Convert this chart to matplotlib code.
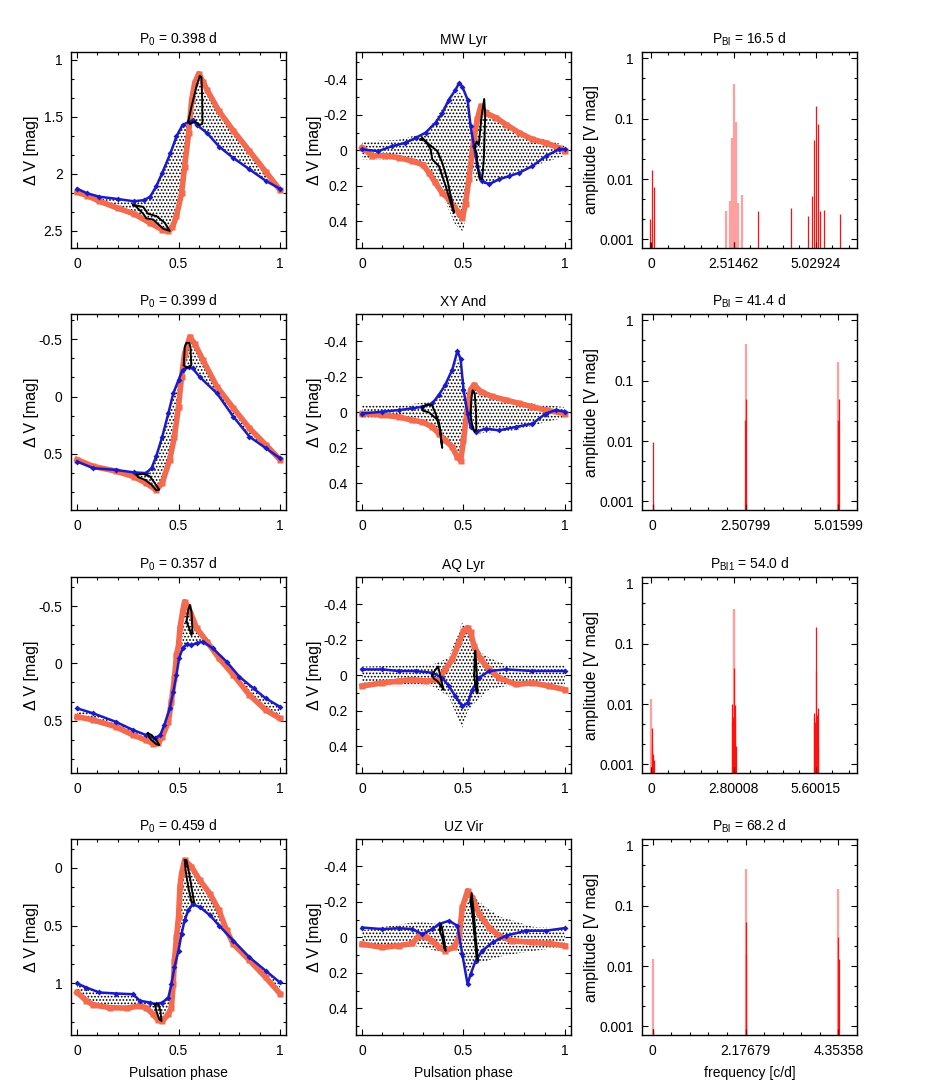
import matplotlib
matplotlib.use("Agg")
import matplotlib.pyplot as plt
from matplotlib.ticker import (MultipleLocator, AutoMinorLocator, FixedLocator,
                               FixedFormatter, FuncFormatter, NullFormatter)

plt.rcParams['font.family'] = ['Liberation Sans', 'DejaVu Sans']
plt.rcParams['mathtext.fontset'] = 'custom'
plt.rcParams['mathtext.rm'] = 'Liberation Sans'
plt.rcParams['mathtext.it'] = 'Liberation Sans:italic'
plt.rcParams['font.size'] = 10
plt.rcParams['axes.titlesize'] = 10
plt.rcParams['hatch.linewidth'] = 0.8
plt.rcParams['axes.unicode_minus'] = False

RED = '#F46A4E'
BLUE = '#1A1AC8'

# ---------------- titles ----------------
left_titles = ['P$_0$ = 0.398 d', 'P$_0$ = 0.399 d', 'P$_0$ = 0.357 d', 'P$_0$ = 0.459 d']
star_names = ['MW Lyr', 'XY And', 'AQ Lyr', 'UZ Vir']
right_titles = ['P$_{\\mathrm{Bl}}$ = 16.5 d', 'P$_{\\mathrm{Bl}}$ = 41.4 d',
                'P$_{\\mathrm{Bl1}}$ = 54.0 d', 'P$_{\\mathrm{Bl}}$ = 68.2 d']

# ---------------- light curves (phase, delta V) ----------------
lc1_red = [(0.0, 2.16), (0.05, 2.19), (0.11, 2.24), (0.2, 2.30), (0.28, 2.35), (0.36, 2.43),
           (0.42, 2.49), (0.45, 2.50), (0.47, 2.47), (0.49, 2.37), (0.515, 2.17), (0.53, 1.94),
           (0.55, 1.64), (0.565, 1.35), (0.58, 1.20), (0.60, 1.12), (0.62, 1.19), (0.64, 1.26),
           (0.70, 1.45), (0.77, 1.62), (0.85, 1.80), (0.93, 1.98), (1.0, 2.14)]
lc1_blue = [(0.0, 2.13), (0.05, 2.17), (0.11, 2.20), (0.2, 2.22), (0.28, 2.24), (0.33, 2.23),
            (0.36, 2.20), (0.39, 2.11), (0.42, 1.99), (0.46, 1.82), (0.49, 1.67), (0.52, 1.57),
            (0.556, 1.54), (0.57, 1.53), (0.59, 1.57), (0.64, 1.64), (0.70, 1.76), (0.77, 1.86),
            (0.85, 1.96), (0.93, 2.06), (1.0, 2.13)]
lc1_loop_max = [(0.548, 1.54), (0.564, 1.41), (0.589, 1.23), (0.605, 1.14), (0.613, 1.15),
                (0.617, 1.35), (0.618, 1.56), (0.605, 1.57), (0.581, 1.54), (0.556, 1.56),
                (0.548, 1.54)]
lc1_loop_min = [(0.276, 2.27), (0.326, 2.29), (0.35, 2.35), (0.391, 2.37), (0.433, 2.43),
                (0.457, 2.50), (0.424, 2.48), (0.375, 2.40), (0.342, 2.39), (0.326, 2.35),
                (0.293, 2.29), (0.276, 2.27)]

lc2_red = [(0.0, 0.55), (0.08, 0.61), (0.19, 0.65), (0.28, 0.70), (0.34, 0.755), (0.39, 0.815),
           (0.42, 0.755), (0.457, 0.55), (0.48, 0.35), (0.50, 0.09), (0.515, -0.17),
           (0.53, -0.375), (0.556, -0.52), (0.58, -0.46), (0.62, -0.32), (0.69, -0.085),
           (0.77, 0.10), (0.85, 0.277), (0.93, 0.42), (1.0, 0.55)]
lc2_blue = [(0.0, 0.567), (0.08, 0.625), (0.19, 0.64), (0.28, 0.662), (0.34, 0.668),
            (0.367, 0.625), (0.39, 0.523), (0.42, 0.35), (0.45, 0.146), (0.474, -0.027),
            (0.50, -0.143), (0.52, -0.23), (0.55, -0.254), (0.57, -0.245), (0.605, -0.17),
            (0.69, -0.027), (0.77, 0.175), (0.85, 0.35), (0.93, 0.45), (1.0, 0.538)]
lc2_loop_max = [(0.526, -0.274), (0.531, -0.433), (0.539, -0.468), (0.553, -0.468),
                (0.559, -0.433), (0.563, -0.274), (0.553, -0.254), (0.536, -0.254),
                (0.526, -0.274)]
lc2_loop_min = [(0.293, 0.683), (0.326, 0.674), (0.359, 0.697), (0.383, 0.755), (0.405, 0.813),
                (0.391, 0.819), (0.367, 0.77), (0.334, 0.726), (0.301, 0.703), (0.293, 0.683)]

lc3_red = [(0.0, 0.465), (0.08, 0.494), (0.19, 0.552), (0.276, 0.625), (0.34, 0.67),
           (0.375, 0.70), (0.40, 0.698), (0.42, 0.64), (0.45, 0.51), (0.465, 0.334),
           (0.48, 0.13), (0.49, -0.073), (0.50, -0.16), (0.507, -0.305), (0.52, -0.45),
           (0.53, -0.538), (0.548, -0.494), (0.59, -0.305), (0.64, -0.19), (0.70, -0.044),
           (0.77, 0.10), (0.85, 0.276), (0.93, 0.407), (1.0, 0.48)]
lc3_blue = [(0.0, 0.392), (0.08, 0.436), (0.19, 0.509), (0.276, 0.581), (0.34, 0.625),
            (0.383, 0.654), (0.41, 0.625), (0.43, 0.538), (0.457, 0.392), (0.474, 0.247),
            (0.49, 0.10), (0.503, -0.044), (0.52, -0.13), (0.54, -0.166), (0.564, -0.16),
            (0.59, -0.175), (0.62, -0.19), (0.67, -0.13), (0.737, -0.015), (0.80, 0.116),
            (0.87, 0.218), (0.93, 0.305), (1.0, 0.378)]
lc3_loop_max = [(0.539, -0.363), (0.548, -0.465), (0.556, -0.509), (0.564, -0.451),
                (0.569, -0.276), (0.564, -0.247), (0.553, -0.305), (0.543, -0.349),
                (0.539, -0.363)]
lc3_loop_min = [(0.35, 0.61), (0.367, 0.625), (0.391, 0.669), (0.405, 0.712), (0.391, 0.706),
                (0.367, 0.669), (0.354, 0.64), (0.35, 0.61)]

lc4_red = [(0.0, 1.078), (0.046, 1.15), (0.08, 1.186), (0.16, 1.209), (0.245, 1.214),
           (0.31, 1.194), (0.34, 1.209), (0.375, 1.267), (0.40, 1.319), (0.42, 1.325),
           (0.45, 1.267), (0.465, 1.209), (0.474, 1.006), (0.48, 0.803), (0.49, 0.60),
           (0.50, 0.426), (0.507, 0.165), (0.515, 0.049), (0.53, -0.067), (0.564, -0.01),
           (0.605, 0.107), (0.655, 0.223), (0.70, 0.368), (0.737, 0.54), (0.77, 0.658),
           (0.85, 0.80), (0.93, 0.948), (1.0, 1.087)]
lc4_blue = [(0.0, 1.0), (0.046, 1.035), (0.11, 1.078), (0.194, 1.087), (0.276, 1.093),
            (0.31, 1.15), (0.36, 1.165), (0.39, 1.18), (0.42, 1.165), (0.45, 1.122),
            (0.465, 1.006), (0.48, 0.861), (0.50, 0.716), (0.515, 0.571), (0.53, 0.455),
            (0.548, 0.368), (0.57, 0.316), (0.605, 0.339), (0.655, 0.41), (0.70, 0.499),
            (0.77, 0.629), (0.85, 0.774), (0.93, 0.89), (1.0, 0.991)]
lc4_loop_max = [(0.531, -0.067), (0.539, -0.067), (0.556, 0.078), (0.572, 0.252),
                (0.577, 0.296), (0.564, 0.296), (0.548, 0.165), (0.535, 0.02), (0.531, -0.067)]
lc4_loop_min = [(0.383, 1.18), (0.40, 1.174), (0.411, 1.238), (0.416, 1.325), (0.405, 1.31),
                (0.391, 1.238), (0.383, 1.18)]

# ---------------- residuals (phase, delta V) ----------------
res1_red = [(0.0, -0.015), (0.05, 0.03), (0.115, 0.03), (0.18, 0.04), (0.247, 0.06),
            (0.30, 0.08), (0.33, 0.126), (0.36, 0.18), (0.395, 0.24), (0.43, 0.276),
            (0.453, 0.32), (0.478, 0.35), (0.495, 0.38), (0.51, 0.30), (0.527, 0.16),
            (0.55, -0.06), (0.568, -0.175), (0.585, -0.25), (0.61, -0.21), (0.66, -0.185),
            (0.71, -0.146), (0.774, -0.10), (0.84, -0.062), (0.906, -0.043), (0.97, -0.015),
            (1.0, 0.004)]
res1_blue = [(0.0, -0.006), (0.08, 0.004), (0.148, -0.024), (0.214, -0.043), (0.264, -0.071),
             (0.313, -0.10), (0.362, -0.156), (0.395, -0.21), (0.428, -0.287), (0.46, -0.34),
             (0.478, -0.38), (0.494, -0.36), (0.52, -0.287), (0.535, -0.137), (0.552, -0.024),
             (0.568, 0.088), (0.593, 0.173), (0.626, 0.19), (0.675, 0.163), (0.725, 0.145),
             (0.774, 0.126), (0.84, 0.088), (0.906, 0.032), (0.97, -0.006), (1.0, -0.006)]
res1_hi = [(0.0, -0.05), (0.18, -0.06), (0.313, -0.10), (0.43, -0.29), (0.478, -0.33),
           (0.52, -0.28), (0.545, -0.10), (0.57, -0.22), (0.61, -0.24), (0.70, -0.15),
           (0.84, -0.08), (1.0, -0.03)]
res1_lo = [(0.0, 0.05), (0.18, 0.05), (0.313, 0.10), (0.395, 0.25), (0.46, 0.42), (0.50, 0.46),
           (0.515, 0.30), (0.54, 0.10), (0.56, 0.17), (0.626, 0.20), (0.72, 0.14), (0.84, 0.09),
           (1.0, 0.03)]
res1_loop_a = [(0.288, -0.062), (0.313, -0.053), (0.338, -0.006), (0.346, 0.051), (0.379, 0.088),
               (0.412, 0.20), (0.437, 0.295), (0.453, 0.351), (0.441, 0.276), (0.42, 0.163),
               (0.395, 0.069), (0.371, 0.004), (0.321, -0.043), (0.297, -0.071), (0.288, -0.062)]
res1_loop_b = [(0.555, -0.02), (0.565, -0.05), (0.575, -0.03), (0.59, -0.20), (0.602, -0.29),
               (0.607, -0.20), (0.60, 0.05), (0.592, 0.16), (0.58, 0.16), (0.57, 0.10),
               (0.565, 0.02), (0.555, -0.02)]

res2_red = [(0.0, 0.006), (0.1, 0.015), (0.18, 0.025), (0.247, 0.044), (0.297, 0.053),
            (0.346, 0.082), (0.379, 0.12), (0.41, 0.158), (0.445, 0.196), (0.47, 0.253),
            (0.486, 0.272), (0.50, 0.158), (0.52, -0.032), (0.535, -0.128), (0.552, -0.156),
            (0.585, -0.118), (0.64, -0.09), (0.71, -0.07), (0.774, -0.051), (0.84, -0.032),
            (0.906, -0.013), (1.0, 0.006)]
res2_blue = [(0.0, 0.006), (0.1, -0.004), (0.18, -0.013), (0.247, -0.023), (0.297, -0.032),
             (0.346, -0.051), (0.379, -0.099), (0.41, -0.156), (0.445, -0.242), (0.47, -0.347),
             (0.486, -0.30), (0.50, -0.128), (0.52, 0.006), (0.535, 0.082), (0.56, 0.11),
             (0.61, 0.091), (0.675, 0.101), (0.758, 0.082), (0.84, 0.063), (0.906, 0.006),
             (0.955, -0.013), (1.0, -0.004)]
res2_hi = [(0.0, -0.04), (0.18, -0.04), (0.346, -0.06), (0.41, -0.16), (0.47, -0.30),
           (0.49, -0.25), (0.52, -0.10), (0.55, -0.16), (0.675, -0.08), (0.84, -0.05),
           (1.0, -0.03)]
res2_lo = [(0.0, 0.03), (0.18, 0.03), (0.346, 0.08), (0.41, 0.16), (0.478, 0.28), (0.50, 0.20),
           (0.52, 0.05), (0.56, 0.12), (0.758, 0.10), (0.92, 0.05), (1.0, 0.03)]
res2_loop_a = [(0.297, -0.03), (0.32, -0.045), (0.345, -0.04), (0.36, 0.0), (0.38, 0.06),
               (0.395, 0.20), (0.385, 0.10), (0.37, 0.04), (0.35, 0.02), (0.33, 0.0),
               (0.30, -0.01), (0.297, -0.03)]
res2_loop_b = [(0.535, 0.0), (0.54, -0.09), (0.545, -0.125), (0.555, -0.11), (0.562, 0.0),
               (0.563, 0.10), (0.555, 0.11), (0.545, 0.08), (0.538, 0.04), (0.535, 0.0)]

res3_red = [(0.0, 0.06), (0.1, 0.042), (0.18, 0.032), (0.247, 0.023), (0.313, 0.032),
            (0.379, 0.023), (0.41, -0.034), (0.445, -0.091), (0.478, -0.186), (0.50, -0.252),
            (0.52, -0.27), (0.535, -0.243), (0.552, -0.167), (0.585, -0.091), (0.626, -0.034),
            (0.675, 0.013), (0.758, 0.051), (0.84, 0.042), (0.92, 0.06), (1.0, 0.08)]
res3_blue = [(0.0, -0.034), (0.1, -0.034), (0.18, -0.025), (0.264, -0.025), (0.346, -0.015),
             (0.395, 0.013), (0.428, 0.06), (0.46, 0.117), (0.494, 0.174), (0.52, 0.155),
             (0.544, 0.08), (0.577, 0.013), (0.626, -0.025), (0.71, -0.034), (0.84, -0.025),
             (1.0, -0.025)]
res3_hi = [(0.0, -0.05), (0.346, -0.06), (0.428, -0.10), (0.494, -0.30), (0.52, -0.25),
           (0.56, -0.15), (0.626, -0.10), (0.71, -0.06), (1.0, -0.06)]
res3_lo = [(0.0, 0.06), (0.346, 0.06), (0.428, 0.12), (0.494, 0.30), (0.52, 0.20),
           (0.56, 0.15), (0.626, 0.08), (0.71, 0.06), (1.0, 0.06)]
res3_loop_a = [(0.346, 0.0), (0.36, -0.03), (0.375, -0.05), (0.385, 0.0), (0.395, 0.05),
               (0.402, 0.08), (0.39, 0.06), (0.37, 0.03), (0.355, 0.02), (0.346, 0.0)]
res3_loop_b = [(0.553, 0.0), (0.555, -0.10), (0.558, -0.14), (0.563, -0.06), (0.568, 0.05),
               (0.57, 0.10), (0.565, 0.10), (0.558, 0.05), (0.553, 0.0)]

res4_red = [(0.0, 0.038), (0.1, 0.056), (0.18, 0.047), (0.247, 0.034), (0.28, -0.009),
            (0.313, -0.005), (0.346, 0.019), (0.379, 0.056), (0.41, 0.075), (0.453, 0.056),
            (0.478, 0.0), (0.494, -0.169), (0.52, -0.263), (0.544, -0.225), (0.577, -0.131),
            (0.626, -0.056), (0.675, -0.009), (0.74, 0.019), (0.84, 0.028), (0.92, 0.034),
            (1.0, 0.047)]
res4_blue = [(0.0, -0.056), (0.1, -0.047), (0.18, -0.052), (0.247, -0.047), (0.297, -0.019),
             (0.346, -0.047), (0.379, -0.075), (0.428, -0.094), (0.47, -0.066), (0.494, 0.094),
             (0.52, 0.263), (0.535, 0.207), (0.56, 0.131), (0.593, 0.075), (0.643, 0.028),
             (0.708, -0.009), (0.807, -0.038), (0.906, -0.038), (1.0, -0.053)]
res4_hi = [(0.0, -0.04), (0.28, -0.09), (0.47, -0.06), (0.51, -0.28), (0.577, -0.20),
           (0.675, -0.12), (0.84, -0.06), (1.0, -0.05)]
res4_lo = [(0.0, 0.05), (0.28, 0.05), (0.379, 0.08), (0.47, 0.07), (0.52, 0.20), (0.56, 0.15),
           (0.708, 0.10), (1.0, 0.05)]
res4_loop_a = [(0.383, -0.05), (0.388, -0.075), (0.395, -0.05), (0.405, 0.02), (0.412, 0.075),
               (0.405, 0.06), (0.395, 0.0), (0.385, -0.03), (0.383, -0.05)]
res4_loop_b = [(0.535, -0.20), (0.54, -0.25), (0.55, -0.15), (0.56, 0.0), (0.572, 0.13),
               (0.565, 0.12), (0.555, 0.0), (0.545, -0.12), (0.535, -0.20)]

# ---------------- amplitude spectra ----------------
sp_f0 = [2.51462, 2.50799, 2.80008, 2.17679]
sp_xmax = [2.5, 2.2, 2.5, 2.2]   # in units of f0
sp_ticklabels = [['0', '2.51462', '5.02924'], ['0', '2.50799', '5.01599'],
                 ['0', '2.80008', '5.60015'], ['0', '2.17679', '4.35358']]

sp1_pink_f = [2.272, 2.393, 2.454, 2.515, 2.575, 2.636, 2.757]
sp1_pink_a = [0.003, 0.0043, 0.048, 0.37, 0.088, 0.004, 0.0055]
sp1_red_f = [-0.03, 0.03, 0.09, 3.26, 4.27, 4.787, 4.908, 4.969, 5.029, 5.090, 5.150, 5.272, 5.78]
sp1_red_a = [0.0022, 0.014, 0.0075, 0.003, 0.0033, 0.0024, 0.0053, 0.045, 0.16, 0.08, 0.003,
             0.0031, 0.0026]
sp1_dark_f = [-0.05, 2.515, 5.029]
sp1_dark_a = [0.0009, 0.0009, 0.0009]

sp2_pink_f = [2.508, 5.016]
sp2_pink_a = [0.40, 0.20]
sp2_red_f = [0.0, 2.484, 2.532, 4.992, 5.040]
sp2_red_a = [0.0095, 0.022, 0.05, 0.022, 0.05]
sp2_dark_f = [0.0, 2.508, 5.016]
sp2_dark_a = [0.0009, 0.0009, 0.0009]

sp3_pink_f = [0.0, 2.800, 2.818]
sp3_pink_a = [0.012, 0.37, 0.36]
sp3_red_f = [0.01, 0.03, 0.045, 0.07, 2.73, 2.76, 2.78, 2.80, 2.818, 2.836, 2.855, 2.87,
             5.52, 5.55, 5.57, 5.60, 5.618, 5.64, 5.66, 5.68]
sp3_red_a = [0.004, 0.0022, 0.0015, 0.0012, 0.01, 0.005, 0.006, 0.0095, 0.04, 0.006, 0.0095,
             0.002, 0.007, 0.006, 0.005, 0.19, 0.035, 0.0065, 0.0085, 0.002]
sp3_dark_f = [0.0, 2.80, 5.60]
sp3_dark_a = [0.0009, 0.0009, 0.0009]

sp4_pink_f = [0.0, 2.177, 4.354]
sp4_pink_a = [0.013, 0.40, 0.19]
sp4_red_f = [2.177, 2.192, 4.354, 4.369]
sp4_red_a = [0.053, 0.016, 0.03, 0.013]
sp4_dark_f = [0.0, 2.177, 4.354]
sp4_dark_a = [0.0009, 0.0009, 0.0009]

light_curves = [(lc1_red, lc1_blue, lc1_loop_max, lc1_loop_min),
                (lc2_red, lc2_blue, lc2_loop_max, lc2_loop_min),
                (lc3_red, lc3_blue, lc3_loop_max, lc3_loop_min),
                (lc4_red, lc4_blue, lc4_loop_max, lc4_loop_min)]
residuals = [(res1_red, res1_blue, res1_hi, res1_lo, res1_loop_a, res1_loop_b),
             (res2_red, res2_blue, res2_hi, res2_lo, res2_loop_a, res2_loop_b),
             (res3_red, res3_blue, res3_hi, res3_lo, res3_loop_a, res3_loop_b),
             (res4_red, res4_blue, res4_hi, res4_lo, res4_loop_a, res4_loop_b)]
spectra = [(sp1_pink_f, sp1_pink_a, sp1_red_f, sp1_red_a, sp1_dark_f, sp1_dark_a),
           (sp2_pink_f, sp2_pink_a, sp2_red_f, sp2_red_a, sp2_dark_f, sp2_dark_a),
           (sp3_pink_f, sp3_pink_a, sp3_red_f, sp3_red_a, sp3_dark_f, sp3_dark_a),
           (sp4_pink_f, sp4_pink_a, sp4_red_f, sp4_red_a, sp4_dark_f, sp4_dark_a)]
lc_ylims = [(2.65, 0.93), (0.99, -0.72), (0.956, -0.753), (1.446, -0.25)]


def fmt(v, pos):
    v = round(v, 6)
    if v == 0:
        return '0'
    return '%g' % v


def xy(pairs):
    return [p[0] for p in pairs], [p[1] for p in pairs]


def style(ax):
    for s in ax.spines.values():
        s.set_linewidth(1.0)
    ax.tick_params(which='both', direction='in', top=True, right=True, width=0.8)
    ax.tick_params(which='major', length=4)
    ax.tick_params(which='minor', length=2.2)
    ax.tick_params(axis='x', pad=6.5)
    ax.tick_params(axis='y', pad=6)


def cloud(ax, upper, lower):
    ux, uy = xy(upper)
    lx, ly = xy(lower)
    ax.fill(ux + lx[::-1], uy + ly[::-1], facecolor='none', edgecolor='black',
            hatch='.....', lw=0, zorder=1)


def curves(ax, red, blue, loops):
    rx, ry = xy(red)
    bx, by = xy(blue)
    ax.plot(rx, ry, color=RED, lw=4, marker='s', ms=4, mec='none', zorder=2)
    ax.plot(bx, by, color=BLUE, lw=1.8, marker='D', ms=3, mec='none', zorder=3)
    for lp in loops:
        px, py = xy(lp)
        ax.plot(px, py, color='black', lw=1.4, zorder=4)


fig = plt.figure(figsize=(9.26, 10.9), dpi=100)
W, H = 926, 1090
lefts = [71, 356, 642]
tops = [52, 314, 577, 839]
aw, ah = 215, 196

for r in range(4):
    axes = [fig.add_axes([l / W, 1 - (tops[r] + ah) / H, aw / W, ah / H]) for l in lefts]
    a1, a2, a3 = axes

    # light curve
    red, blue, lmax, lmin = light_curves[r]
    cloud(a1, red, blue)
    curves(a1, red, blue, [lmax, lmin])
    a1.set_xlim(-0.03, 1.03)
    a1.set_ylim(*lc_ylims[r])
    a1.xaxis.set_major_locator(MultipleLocator(0.5))
    a1.xaxis.set_minor_locator(AutoMinorLocator(5))
    a1.yaxis.set_major_locator(MultipleLocator(0.5))
    a1.yaxis.set_minor_locator(AutoMinorLocator(3))
    a1.xaxis.set_major_formatter(FuncFormatter(fmt))
    a1.yaxis.set_major_formatter(FuncFormatter(fmt))
    a1.set_title(left_titles[r], pad=6)
    a1.set_ylabel('\u0394 V [mag]', fontsize=11.5)
    a1.yaxis.set_label_coords(-0.15, 0.5)
    style(a1)

    # residuals
    rred, rblue, hi, lo, la, lb = residuals[r]
    cloud(a2, hi, lo)
    curves(a2, rred, rblue, [la, lb])
    a2.set_xlim(-0.03, 1.03)
    a2.set_ylim(0.55, -0.555)
    a2.xaxis.set_major_locator(MultipleLocator(0.5))
    a2.xaxis.set_minor_locator(AutoMinorLocator(5))
    a2.yaxis.set_major_locator(MultipleLocator(0.2))
    a2.yaxis.set_minor_locator(AutoMinorLocator(2))
    a2.xaxis.set_major_formatter(FuncFormatter(fmt))
    a2.yaxis.set_major_formatter(FuncFormatter(fmt))
    a2.set_title(star_names[r], pad=6)
    a2.set_ylabel('\u0394 V [mag]', fontsize=11.5)
    a2.yaxis.set_label_coords(-0.16, 0.5)
    style(a2)

    # spectrum
    pf, pa, rf, ra, df, da = spectra[r]
    f0 = sp_f0[r]
    a3.vlines(pf, 1e-4, pa, color='#FFA0A0', lw=1.6, zorder=1)
    a3.vlines(rf, 1e-4, ra, color='#FF1010', lw=0.9, zorder=2)
    a3.vlines(df, 1e-4, da, color='#900000', lw=0.9, zorder=3)
    a3.set_yscale('log')
    a3.set_ylim(7.2e-4, 1.27)
    a3.set_xlim(-0.115 * f0, sp_xmax[r] * f0)
    a3.xaxis.set_major_locator(FixedLocator([0, f0, 2 * f0]))
    a3.xaxis.set_major_formatter(FixedFormatter(sp_ticklabels[r]))
    a3.xaxis.set_minor_locator(MultipleLocator(f0 / 5))
    a3.yaxis.set_major_locator(FixedLocator([0.001, 0.01, 0.1, 1]))
    a3.yaxis.set_major_formatter(FuncFormatter(lambda v, p: '%g' % v))
    a3.yaxis.set_minor_locator(FixedLocator([10 ** (k / 3) for k in range(-12, 3) if k % 3]))
    a3.yaxis.set_minor_formatter(NullFormatter())
    a3.set_title(right_titles[r], pad=6)
    a3.set_ylabel('amplitude [V mag]', fontsize=11.5)
    a3.yaxis.set_label_coords(-0.2, 0.5)
    style(a3)

    if r == 3:
        a1.set_xlabel('Pulsation phase')
        a2.set_xlabel('Pulsation phase')
        a3.set_xlabel('frequency [c/d]')
        for a in axes:
            a.xaxis.set_label_coords(0.5, -0.16)

fig.savefig('out.png', dpi=100)
